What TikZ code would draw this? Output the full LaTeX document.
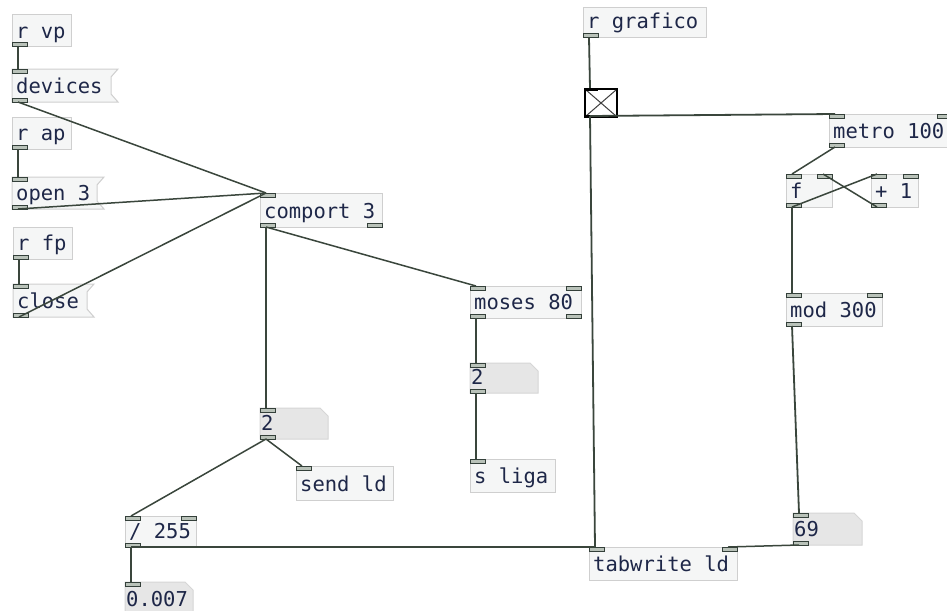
\documentclass[tikz,border=0pt]{standalone}
\usepackage{fontspec}
\newfontfamily\pdfont{DejaVu Sans Mono}
\definecolor{boxfill}{HTML}{F5F6F6}
\definecolor{boxline}{HTML}{CFCFCF}
\definecolor{numfill}{HTML}{E6E6E6}
\definecolor{numline}{HTML}{D6D6D6}
\definecolor{iofill}{HTML}{B9C2B9}
\definecolor{ioline}{HTML}{34403A}
\definecolor{wirecol}{HTML}{3A463C}
\definecolor{txtcol}{HTML}{1E2748}

\tikzset{
  objbox/.style={fill=boxfill,draw=boxline,line width=1pt},
  numbox/.style={fill=numfill,draw=numline,line width=1pt},
  iolet/.style={fill=iofill,draw=ioline,line width=1pt},
  lbl/.style={anchor=base west,inner sep=0pt,text=txtcol,
    font=\fontsize{20.5}{24}\selectfont\pdfont},
  wire/.style={draw=wirecol,line width=1.8pt},
}

% row of inlets or outlets: name, tag, x1, x2, top of iolet, count, wire end y
\newcommand\iolets[7]{%
  \ifnum#6>0
  \foreach \k in {1,...,#6}{%
    \ifnum#6=1 \pgfmathsetmacro\px{#3}%
    \else \pgfmathsetmacro\px{#3+(\k-1)*(#4-#3-15)/(#6-1)}\fi
    \draw[iolet] (\px,#5) rectangle ++(15,4);
    \coordinate (#1-#2\k) at (\px+6,#7);
  }\fi}

% object box: name, x1, y1, x2, y2, text, inlets, outlets
\newcommand\pdobj[8]{%
  \path[objbox] (#2,#3) rectangle (#4,#5);
  \node[lbl] (#1) at (#2+4,#5-9) {#6};
  \iolets{#1}{i}{#2}{#4}{#3}{#7}{#3}
  \iolets{#1}{o}{#2}{#4}{#5-4}{#8}{#5}}

% message box with flag edge: name, x1, y1, x2, y2, text
\newcommand\pdmsg[6]{%
  \path[objbox] (#2,#3) -- (#4+7,#3) -- (#4,#3+8) -- (#4,#5-8)
     -- (#4+7,#5) -- (#2,#5) -- cycle;
  \node[lbl] (#1) at (#2+4,#5-9) {#6};
  \iolets{#1}{i}{#2}{#4}{#3}{1}{#3}
  \iolets{#1}{o}{#2}{#4}{#5-4}{1}{#5}}

% number box with cut corner: name, x1, y1, x2, y2, text
\newcommand\pdnum[6]{%
  \path[numbox] (#2,#3) -- (#4-8,#3) -- (#4,#3+8) -- (#4,#5) -- (#2,#5) -- cycle;
  \node[lbl] (#1) at (#2+1,#5-9) {#6};
  \iolets{#1}{i}{#2}{#4}{#3}{1}{#3}
  \iolets{#1}{o}{#2}{#4}{#5-4}{1}{#5}}

\begin{document}
\begin{tikzpicture}[x=1pt,y=-1pt]
\fill[white] (0,0) rectangle (947,610);
\clip (0,0) rectangle (947,610);

% left column: receivers and messages
\pdobj{rvp}{12}{15}{71}{47}{r vp}{0}{1}
\pdmsg{devices}{12}{69}{111}{102}{devices}
\pdobj{rap}{12}{117}{71}{149}{r ap}{0}{1}
\pdmsg{open}{12}{177}{97}{209}{open 3}
\pdobj{rfp}{13}{227}{72}{259}{r fp}{0}{1}
\pdmsg{close}{13}{284}{87}{317}{close}

% serial port and its outputs
\pdobj{comport}{260}{193}{382}{227}{comport 3}{1}{2}
\pdobj{moses}{470}{286}{581}{318}{moses 80}{2}{2}
\pdnum{numb}{470}{363}{538}{393}{2}
\pdobj{sliga}{470}{459}{555}{492}{s liga}{1}{0}
\pdnum{numa}{260}{408}{328}{439}{2}
\pdobj{sendld}{296}{466}{393}{500}{send ld}{1}{0}
\pdobj{div}{125}{516}{196}{547}{/ 255}{2}{1}
\pdnum{nres}{125}{582}{193}{615}{0.007}

% graph writer
\pdobj{rgraf}{583}{8}{706}{38}{r grafico}{0}{1}
\pdobj{metro}{829}{114}{952}{147}{metro 100}{2}{1}
\pdobj{fbox}{786}{174}{832}{207}{f}{2}{1}
\pdobj{plus}{871}{174}{918}{207}{+ 1}{2}{1}
\pdobj{mod}{786}{293}{882}{326}{mod 300}{2}{1}
\pdnum{nidx}{793}{513}{862}{545}{69}
\pdobj{tabw}{589}{547}{737}{580}{tabwrite ld}{2}{0}

% toggle
\node[draw=black,fill=white,line width=2pt,minimum width=32pt,minimum height=28pt,
  inner sep=0pt,anchor=north west] (tgl) at (584,88) {};
\draw[black!75,line width=1pt] (tgl.north west) ++(2,2) -- ([shift={(-2,-2)}]tgl.south east);
\draw[black!75,line width=1pt] (tgl.south west) ++(2,-2) -- ([shift={(-2,2)}]tgl.north east);
\fill[black] (tgl.north west) rectangle ++(14,3);
\fill[black] (tgl.south west) rectangle ++(14,-3);
\coordinate (tgl-i1) at (590,88);
\coordinate (tgl-o1) at (590,116);

% connections
\draw[wire] (rvp-o1) -- (devices-i1);
\draw[wire] (rap-o1) -- (open-i1);
\draw[wire] (rfp-o1) -- (close-i1);
\draw[wire,line width=1.5pt] (devices-o1) -- (comport-i1);
\draw[wire,line width=1.5pt] (open-o1) -- (comport-i1);
\draw[wire,line width=1.5pt] (close-o1) -- (comport-i1);
\draw[wire] (comport-o1) -- (numa-i1);
\draw[wire,line width=1.5pt] (comport-o1) -- (moses-i1);
\draw[wire] (moses-o1) -- (numb-i1);
\draw[wire] (numb-o1) -- (sliga-i1);
\draw[wire,line width=1.5pt] (numa-o1) -- (div-i1);
\draw[wire,line width=1.5pt] (numa-o1) -- (sendld-i1);
\draw[wire] (div-o1) -- (tabw-i1);
\draw[wire] (div-o1) -- (nres-i1);
\draw[wire] (rgraf-o1) -- (tgl-i1);
\draw[wire] (tgl-o1) -- (metro-i1);
\draw[wire] (tgl-o1) -- (tabw-i1);
\draw[wire,line width=1.5pt] (metro-o1) -- (fbox-i1);
\draw[wire,line width=1.5pt] (fbox-o1) -- (plus-i1);
\draw[wire,line width=1.5pt] (plus-o1) -- (fbox-i2);
\draw[wire] (fbox-o1) -- (mod-i1);
\draw[wire] (mod-o1) -- (nidx-i1);
\draw[wire,line width=1.5pt] (nidx-o1) -- (tabw-i2);
\end{tikzpicture}
\end{document}
